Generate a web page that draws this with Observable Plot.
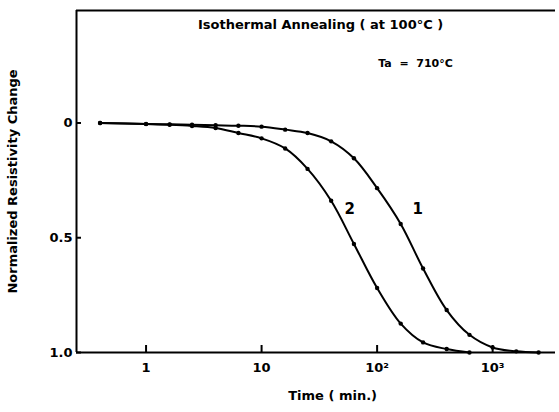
<!DOCTYPE html>
<html>
<head>
<meta charset="utf-8">
<script src="https://cdn.jsdelivr.net/npm/d3@7"></script>
<script src="https://cdn.jsdelivr.net/npm/@observablehq/plot@0.6"></script>
<style>
  html, body { margin: 0; padding: 0; background: #fff; }
  svg { display: block; }
</style>
</head>
<body>
<div id="chart"></div>
<script>
// Time (min) and normalized resistivity change for curve 1 and curve 2
const times1 = [0.4, 1, 1.6, 2.5, 4, 6.3, 10, 16, 25, 40, 63, 100, 160, 250, 400, 630, 1000, 1600, 2500];
const values1 = [0, 0.004, 0.006, 0.008, 0.010, 0.012, 0.016, 0.029, 0.044, 0.080, 0.154, 0.284, 0.440, 0.634, 0.815, 0.923, 0.978, 0.995, 1.0];
const times2 = [0.4, 1, 1.6, 2.5, 4, 6.3, 10, 16, 25, 40, 63, 100, 160, 250, 400, 630];
const values2 = [0, 0.005, 0.008, 0.013, 0.022, 0.044, 0.067, 0.111, 0.200, 0.339, 0.527, 0.719, 0.874, 0.956, 0.985, 1.0];

const xTicks = [1, 10, 100, 1000];
const xTickLabels = ["1", "10", "10\u00B2", "10\u00B3"];
const yTicks = [0, 0.5, 1.0];
const yTickLabels = ["0", "0.5", "1.0"];
const xDomain = [0.25, 3500];
const yDomain = [1.0, -0.49];

const curveLabels = [
  {t: 58, v: 0.374, text: "2"},
  {t: 225, v: 0.374, text: "1"}
];
const annotations = [
  {t: 32.4, v: -0.428, text: "Isothermal Annealing ( at 100°C )", size: 13},
  {t: 215, v: -0.258, text: "Ta  =  710°C", size: 11}
];
const xTitle = {t: 41.2, v: 1.0, text: "Time ( min.)"};

const series1 = times1.map((t, i) => ({t, v: values1[i]}));
const series2 = times2.map((t, i) => ({t, v: values2[i]}));

const font = "'DejaVu Sans', sans-serif";

const chart = Plot.plot({
  width: 559,
  height: 412,
  marginLeft: 76,
  marginRight: 4,
  marginTop: 10,
  marginBottom: 60,
  style: {fontFamily: font, fontWeight: "bold", fontSize: "13px", color: "#000", background: "#fff"},
  x: {type: "log", domain: xDomain},
  y: {domain: yDomain},
  marks: [
    Plot.ruleX([xDomain[0]], {stroke: "#000", strokeWidth: 2}),
    Plot.ruleY([yDomain[0]], {stroke: "#000", strokeWidth: 2}),
    Plot.ruleY([yDomain[1]], {stroke: "#000", strokeWidth: 2}),
    // inward ticks
    Plot.axisX({ticks: xTicks, tickSize: -7, strokeWidth: 2, tickFormat: () => "", label: null}),
    Plot.axisX({ticks: xTicks, tickSize: 0, tickPadding: 10, fontSize: 13,
      tickFormat: (d) => xTickLabels[xTicks.indexOf(d)], label: null}),
    Plot.axisY({ticks: yTicks, tickSize: -5, strokeWidth: 2, tickFormat: () => "", label: null}),
    Plot.axisY({ticks: yTicks, tickSize: 0, tickPadding: 4, fontSize: 13,
      tickFormat: (d) => yTickLabels[yTicks.indexOf(d)],
      label: "Normalized Resistivity Change", labelAnchor: "center", labelArrow: false, labelOffset: 69}),
    Plot.line(series1, {x: "t", y: "v", curve: "catmull-rom", stroke: "#000", strokeWidth: 2}),
    Plot.line(series2, {x: "t", y: "v", curve: "catmull-rom", stroke: "#000", strokeWidth: 2}),
    Plot.dot(series1, {x: "t", y: "v", r: 2.2, fill: "#000"}),
    Plot.dot(series2, {x: "t", y: "v", r: 2.2, fill: "#000"}),
    Plot.text(curveLabels, {x: "t", y: "v", text: "text", fontSize: 15, fontWeight: "bold"}),
    Plot.text(annotations, {x: "t", y: "v", text: "text", fontSize: "size", fontWeight: "bold"}),
    Plot.text([xTitle], {x: "t", y: "v", text: "text", dy: 43, fontSize: 13, fontWeight: "bold"})
  ]
});
document.getElementById("chart").appendChild(chart);
</script>
</body>
</html>
